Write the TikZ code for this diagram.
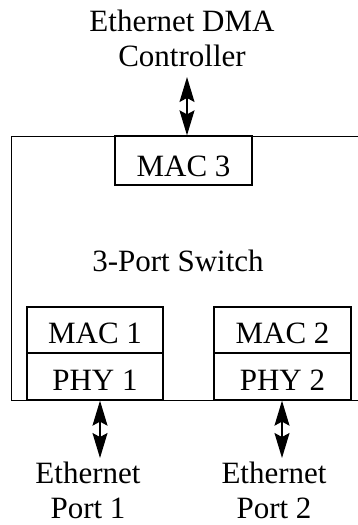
\documentclass[tikz,border=0pt]{standalone}
\usepackage{fontspec}
\setmainfont{Liberation Serif}
\usetikzlibrary{arrows.meta}
\begin{document}
\begin{tikzpicture}[x=1pt,y=-1pt,
  box/.style={draw,line width=1.3pt,minimum width=#1,inner sep=0pt},
  lbl/.style={font=\fontsize{31}{35}\selectfont,inner sep=0pt,align=center},
  arr/.style={line width=1.3pt,{Stealth[length=25pt,width=15pt,inset=4pt]}-{Stealth[length=25pt,width=15pt,inset=4pt]}}]
\useasboundingbox (0,0) rectangle (357,525);
\node[draw,line width=1.3pt,minimum width=354pt,minimum height=264pt,anchor=north west,inner sep=0pt] (sw) at (11,136) {};
\node[lbl,anchor=base] (swl) at (178,271) {3-Port Switch};
\node[box=137pt,minimum height=49pt] (mac3) at (183.5,160.5) {};
\node[lbl,anchor=base] at (mac3.center |- 0,176) {MAC 3};
\node[box=136pt,minimum height=46pt] (mac1) at (95,330) {};
\node[box=136pt,minimum height=47pt] (phy1) at (95,376.5) {};
\node[box=137pt,minimum height=46pt] (mac2) at (282.5,330) {};
\node[box=137pt,minimum height=47pt] (phy2) at (282.5,376.5) {};
\node[lbl,anchor=base] at (mac1.center |- 0,343) {MAC 1};
\node[lbl,anchor=base] at (phy1.center |- 0,390) {PHY 1};
\node[lbl,anchor=base] at (mac2.center |- 0,343) {MAC 2};
\node[lbl,anchor=base] at (phy2.center |- 0,390) {PHY 2};
\node[lbl,anchor=base] (ctrl) at (182,66) {Ethernet DMA\\Controller};
\node[lbl,anchor=base] (p1) at (88,518) {Ethernet\\Port 1};
\node[lbl,anchor=base] (p2) at (274,518) {Ethernet\\Port 2};
\coordinate (a1) at (187,77);
\coordinate (b1) at (100,458);
\coordinate (b2) at (282,458);
\draw[arr] (a1) -- (a1 |- mac3.north);
\draw[arr] (phy1.south -| b1) -- (b1);
\draw[arr] (phy2.south -| b2) -- (b2);
\end{tikzpicture}
\end{document}
